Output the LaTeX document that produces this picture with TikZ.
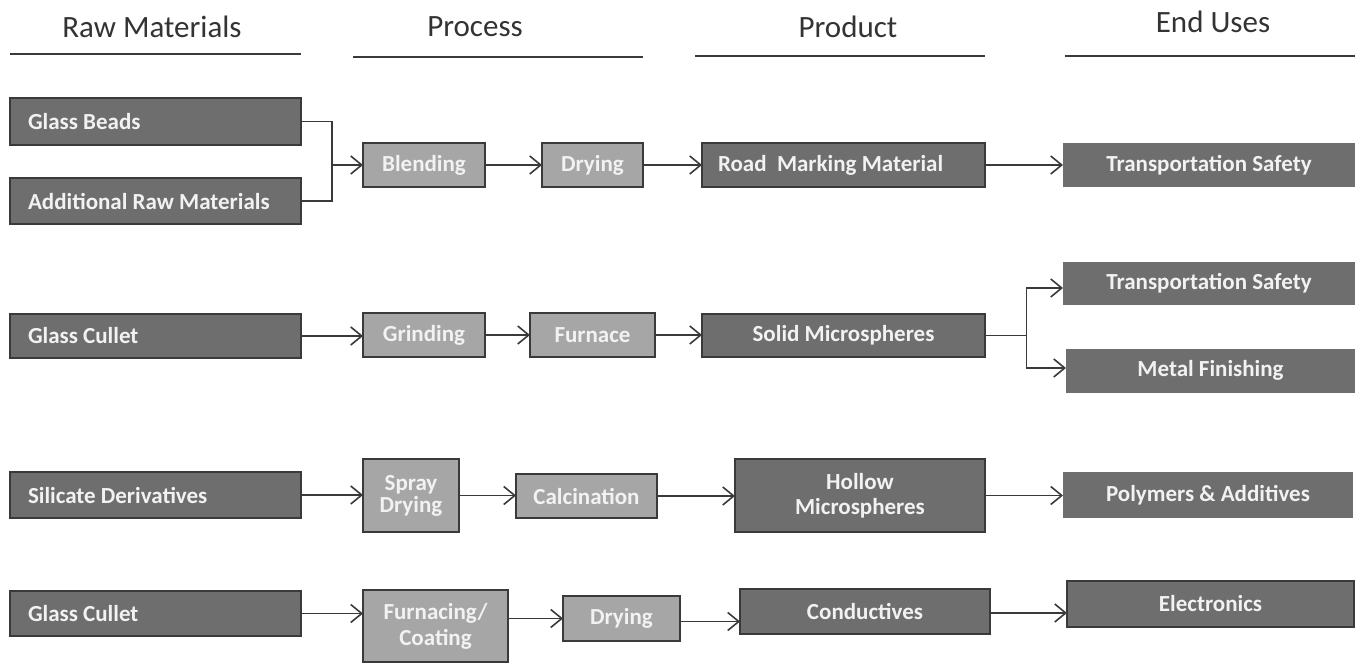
\documentclass[tikz,border=0pt]{standalone}
\usepackage{fontspec}
\setmainfont{Carlito}
\usetikzlibrary{arrows.meta}
\definecolor{darkbox}{HTML}{6E6E6F}
\definecolor{lightbox}{HTML}{A6A6A7}
\definecolor{edge}{HTML}{3A3A3A}
\definecolor{boxtext}{HTML}{F2F2F2}
\tikzset{
  base/.style={inner sep=0pt, outer sep=0pt, text=boxtext, font=\fontsize{23}{25}\selectfont\bfseries, align=center},
  darkstep/.style={base, fill=darkbox, draw=edge, line width=1.5pt},
  lightstep/.style={base, fill=lightbox, draw=edge, line width=1.5pt},
  usebox/.style={base, fill=darkbox},
  usebordered/.style={base, fill=darkbox, draw=edge, line width=1.5pt},
  leftbox/.style={darkstep, align=flush left, text width=#1},
  header/.style={font=\fontsize{31}{33}\selectfont, text=black!80, inner sep=0pt},
  rule/.style={draw=edge, line width=1.3pt},
  flow/.style={draw=edge, line width=1.6pt, -{Straight Barb[length=11pt,width=18pt,line width=1.6pt]}},
  link/.style={draw=edge, line width=1.6pt},
}
\begin{document}
\begin{tikzpicture}[x=1pt, y=-1pt]
\useasboundingbox (0,0) rectangle (1363,663);

% column headers and their rules
\node[header] (hraw)  at (152,27)  {Raw Materials};
\node[header] (hproc) at (475,27)  {Process};
\node[header] (hprod) at (848,27)  {Product};
\node[header] (hend)  at (1213,22) {End Uses};
\coordinate (r1a) at (10,54);   \coordinate (r1b) at (301,54);
\coordinate (r2a) at (353,57);  \coordinate (r2b) at (643,57);
\coordinate (r3a) at (695,56);  \coordinate (r3b) at (985,56);
\coordinate (r4a) at (1065,56); \coordinate (r4b) at (1355,56);
\draw[rule] (r1a) -- (r1b);
\draw[rule] (r2a) -- (r2b);
\draw[rule] (r3a) -- (r3b);
\draw[rule] (r4a) -- (r4b);

% row 1: road marking material
\node[leftbox=255pt, inner xsep=18pt, minimum height=47pt] (gb)  at (155.5,121.5) {Glass Beads};
\node[leftbox=255pt, inner xsep=18pt, minimum height=46pt] (arm) at (155.5,201) {Additional Raw Materials};
\node[lightstep, minimum width=122pt, minimum height=44pt] (blend) at (424,165) {Blending};
\node[lightstep, minimum width=101pt, minimum height=44pt] (dry1)  at (592.5,165) {Drying};
\node[leftbox=251pt, inner xsep=16pt, minimum height=44pt] (road) at (843.5,165) {Road\ \ Marking Material};
\node[usebox, minimum width=292pt, minimum height=44pt] (ts1) at (1209,165) {Transportation Safety};

\coordinate (j1) at (332,165);
\draw[link] (gb.east) -| (j1);
\draw[link] (arm.east) -| (j1);
\draw[flow] (j1) -- (blend.west);
\draw[flow] (blend) -- (dry1);
\draw[flow] (dry1) -- (road);
\draw[flow] (road) -- (ts1);

% row 2: solid microspheres
\node[leftbox=255pt, inner xsep=18pt, minimum height=44pt] (gc1) at (155.5,336) {Glass Cullet};
\node[lightstep, minimum width=122pt, minimum height=44pt] (grind) at (424,335) {Grinding};
\node[lightstep, minimum width=125pt, minimum height=44pt] (furn1) at (592.5,335) {Furnace};
\node[darkstep, minimum width=283pt, minimum height=43pt] (solid) at (843.5,335.5) {Solid Microspheres};
\node[usebox, minimum width=292pt, minimum height=43pt] (ts2) at (1209,283.5) {Transportation Safety};
\node[usebox, minimum width=289pt, minimum height=44pt] (metal) at (1210.5,370.5) {Metal Finishing};

\coordinate (j2) at (1026.5,335.5);
\draw[flow] (gc1) -- (gc1 -| grind.west);
\draw[flow] (grind) -- (grind -| furn1.west);
\draw[flow] (furn1) -- (furn1 -| solid.west);
\draw[link] (solid.east) -- (j2);
\draw[flow] (j2) |- ([yshift=-4.5pt]ts2.west);
\draw[flow] (j2) |- ([yshift=2.5pt]metal.west);

% row 3: hollow microspheres
\node[leftbox=255pt, inner xsep=18pt, minimum height=46pt] (sil) at (155.5,495) {Silicate Derivatives};
\node[lightstep, minimum width=96pt, minimum height=73pt] (spray) at (411,495.5) {Spray\\[-3pt]Drying};
\node[lightstep, minimum width=141pt, minimum height=44pt] (calc) at (586.5,496) {Calcination};
\node[darkstep, minimum width=250pt, minimum height=73pt] (hollow) at (860,495.5) {Hollow\\[0pt]Microspheres};
\node[usebox, minimum width=290pt, minimum height=46pt] (poly) at (1208,495) {Polymers \& Additives};

\draw[flow] (sil) -- (sil -| spray.west);
\draw[flow] (spray) -- (spray -| calc.west);
\draw[flow] (calc) -- (calc -| hollow.west);
\draw[flow] (hollow) -- (hollow -| poly.west);

% row 4: conductives
\node[leftbox=255pt, inner xsep=18pt, minimum height=45pt] (gc2) at (155.5,613.5) {Glass Cullet};
\node[lightstep, minimum width=145pt, minimum height=72pt] (furn2) at (435.5,626) {Furnacing/\\[1pt]Coating};
\node[lightstep, minimum width=117pt, minimum height=45pt] (dry2) at (621.5,618.5) {Drying};
\node[darkstep, minimum width=250pt, minimum height=45pt] (cond) at (865,611.5) {Conductives};
\node[usebordered, minimum width=287pt, minimum height=46pt] (elec) at (1210.5,604) {Electronics};

\draw[flow] (gc2) -- (gc2 -| furn2.west);
\draw[flow] (furn2.east |- dry2) -- (dry2.west);
\draw[flow] ([yshift=-3pt]dry2.east) -- ([yshift=-3pt]dry2.east -| cond.west);
\draw[flow] ([yshift=-1.5pt]cond.east) -- ([yshift=-1.5pt]cond.east -| elec.west);
\end{tikzpicture}
\end{document}
